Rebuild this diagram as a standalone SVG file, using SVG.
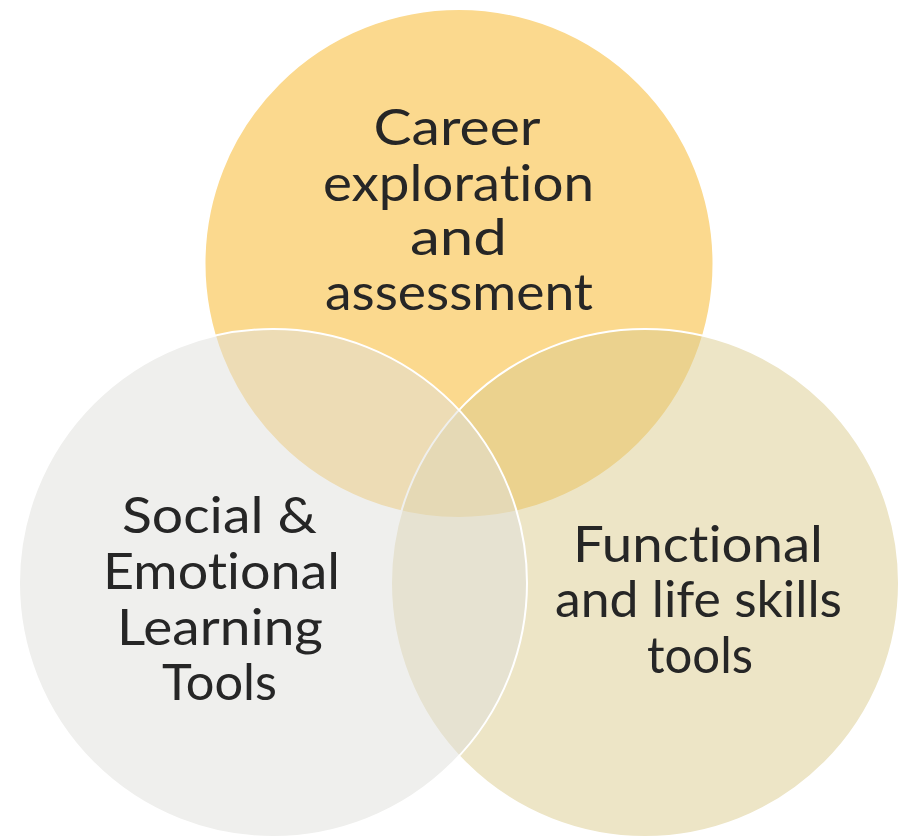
<svg xmlns="http://www.w3.org/2000/svg" width="903" height="838" viewBox="0 0 903 838">
  <style>
    .ring { stroke: #ffffff; stroke-width: 2; }
    .label { font-family: Lato, "DejaVu Sans", sans-serif; font-size: 51px; font-weight: 400; fill: #262626; text-anchor: middle; font-variant-ligatures: none; }
  </style>
  <rect width="903" height="838" fill="#ffffff"/>

  <!-- top set: career exploration -->
  <g id="career">
    <circle class="ring" cx="459" cy="263.5" r="254.5" fill="#fbd98e"/>
  </g>

  <!-- lower right set: functional skills -->
  <g id="functional">
    <circle class="ring" cx="645" cy="583" r="254" fill="#dbcb8d" fill-opacity="0.5"/>
  </g>

  <!-- lower left set: social emotional learning -->
  <g id="social">
    <circle class="ring" cx="273" cy="583" r="254" fill="#dfdfdb" fill-opacity="0.5"/>
  </g>

  <!-- labels drawn above all fills -->
  <g id="career-label">
    <text class="label" x="457" y="145" textLength="167" lengthAdjust="spacingAndGlyphs">Career</text>
    <text class="label" x="458.5" y="201" textLength="271" lengthAdjust="spacingAndGlyphs">exploration</text>
    <text class="label" x="458.5" y="255" textLength="97" lengthAdjust="spacingAndGlyphs">and</text>
    <text class="label" x="459" y="310" textLength="268" lengthAdjust="spacingAndGlyphs">assessment</text>
  </g>
  <g id="social-label">
    <text class="label" x="219.5" y="533" textLength="195" lengthAdjust="spacingAndGlyphs">Social &amp;</text>
    <text class="label" x="221.5" y="589" textLength="237" lengthAdjust="spacingAndGlyphs">Emotional</text>
    <text class="label" x="220" y="645" textLength="206" lengthAdjust="spacingAndGlyphs">Learning</text>
    <text class="label" x="219.5" y="700" textLength="115" lengthAdjust="spacingAndGlyphs">Tools</text>
  </g>
  <g id="functional-label">
    <text class="label" x="698" y="562" textLength="250" lengthAdjust="spacingAndGlyphs">Functional</text>
    <text class="label" x="698.5" y="617" textLength="287" lengthAdjust="spacingAndGlyphs">and life skills</text>
    <text class="label" x="700" y="673" textLength="106" lengthAdjust="spacingAndGlyphs">tools</text>
  </g>
</svg>
